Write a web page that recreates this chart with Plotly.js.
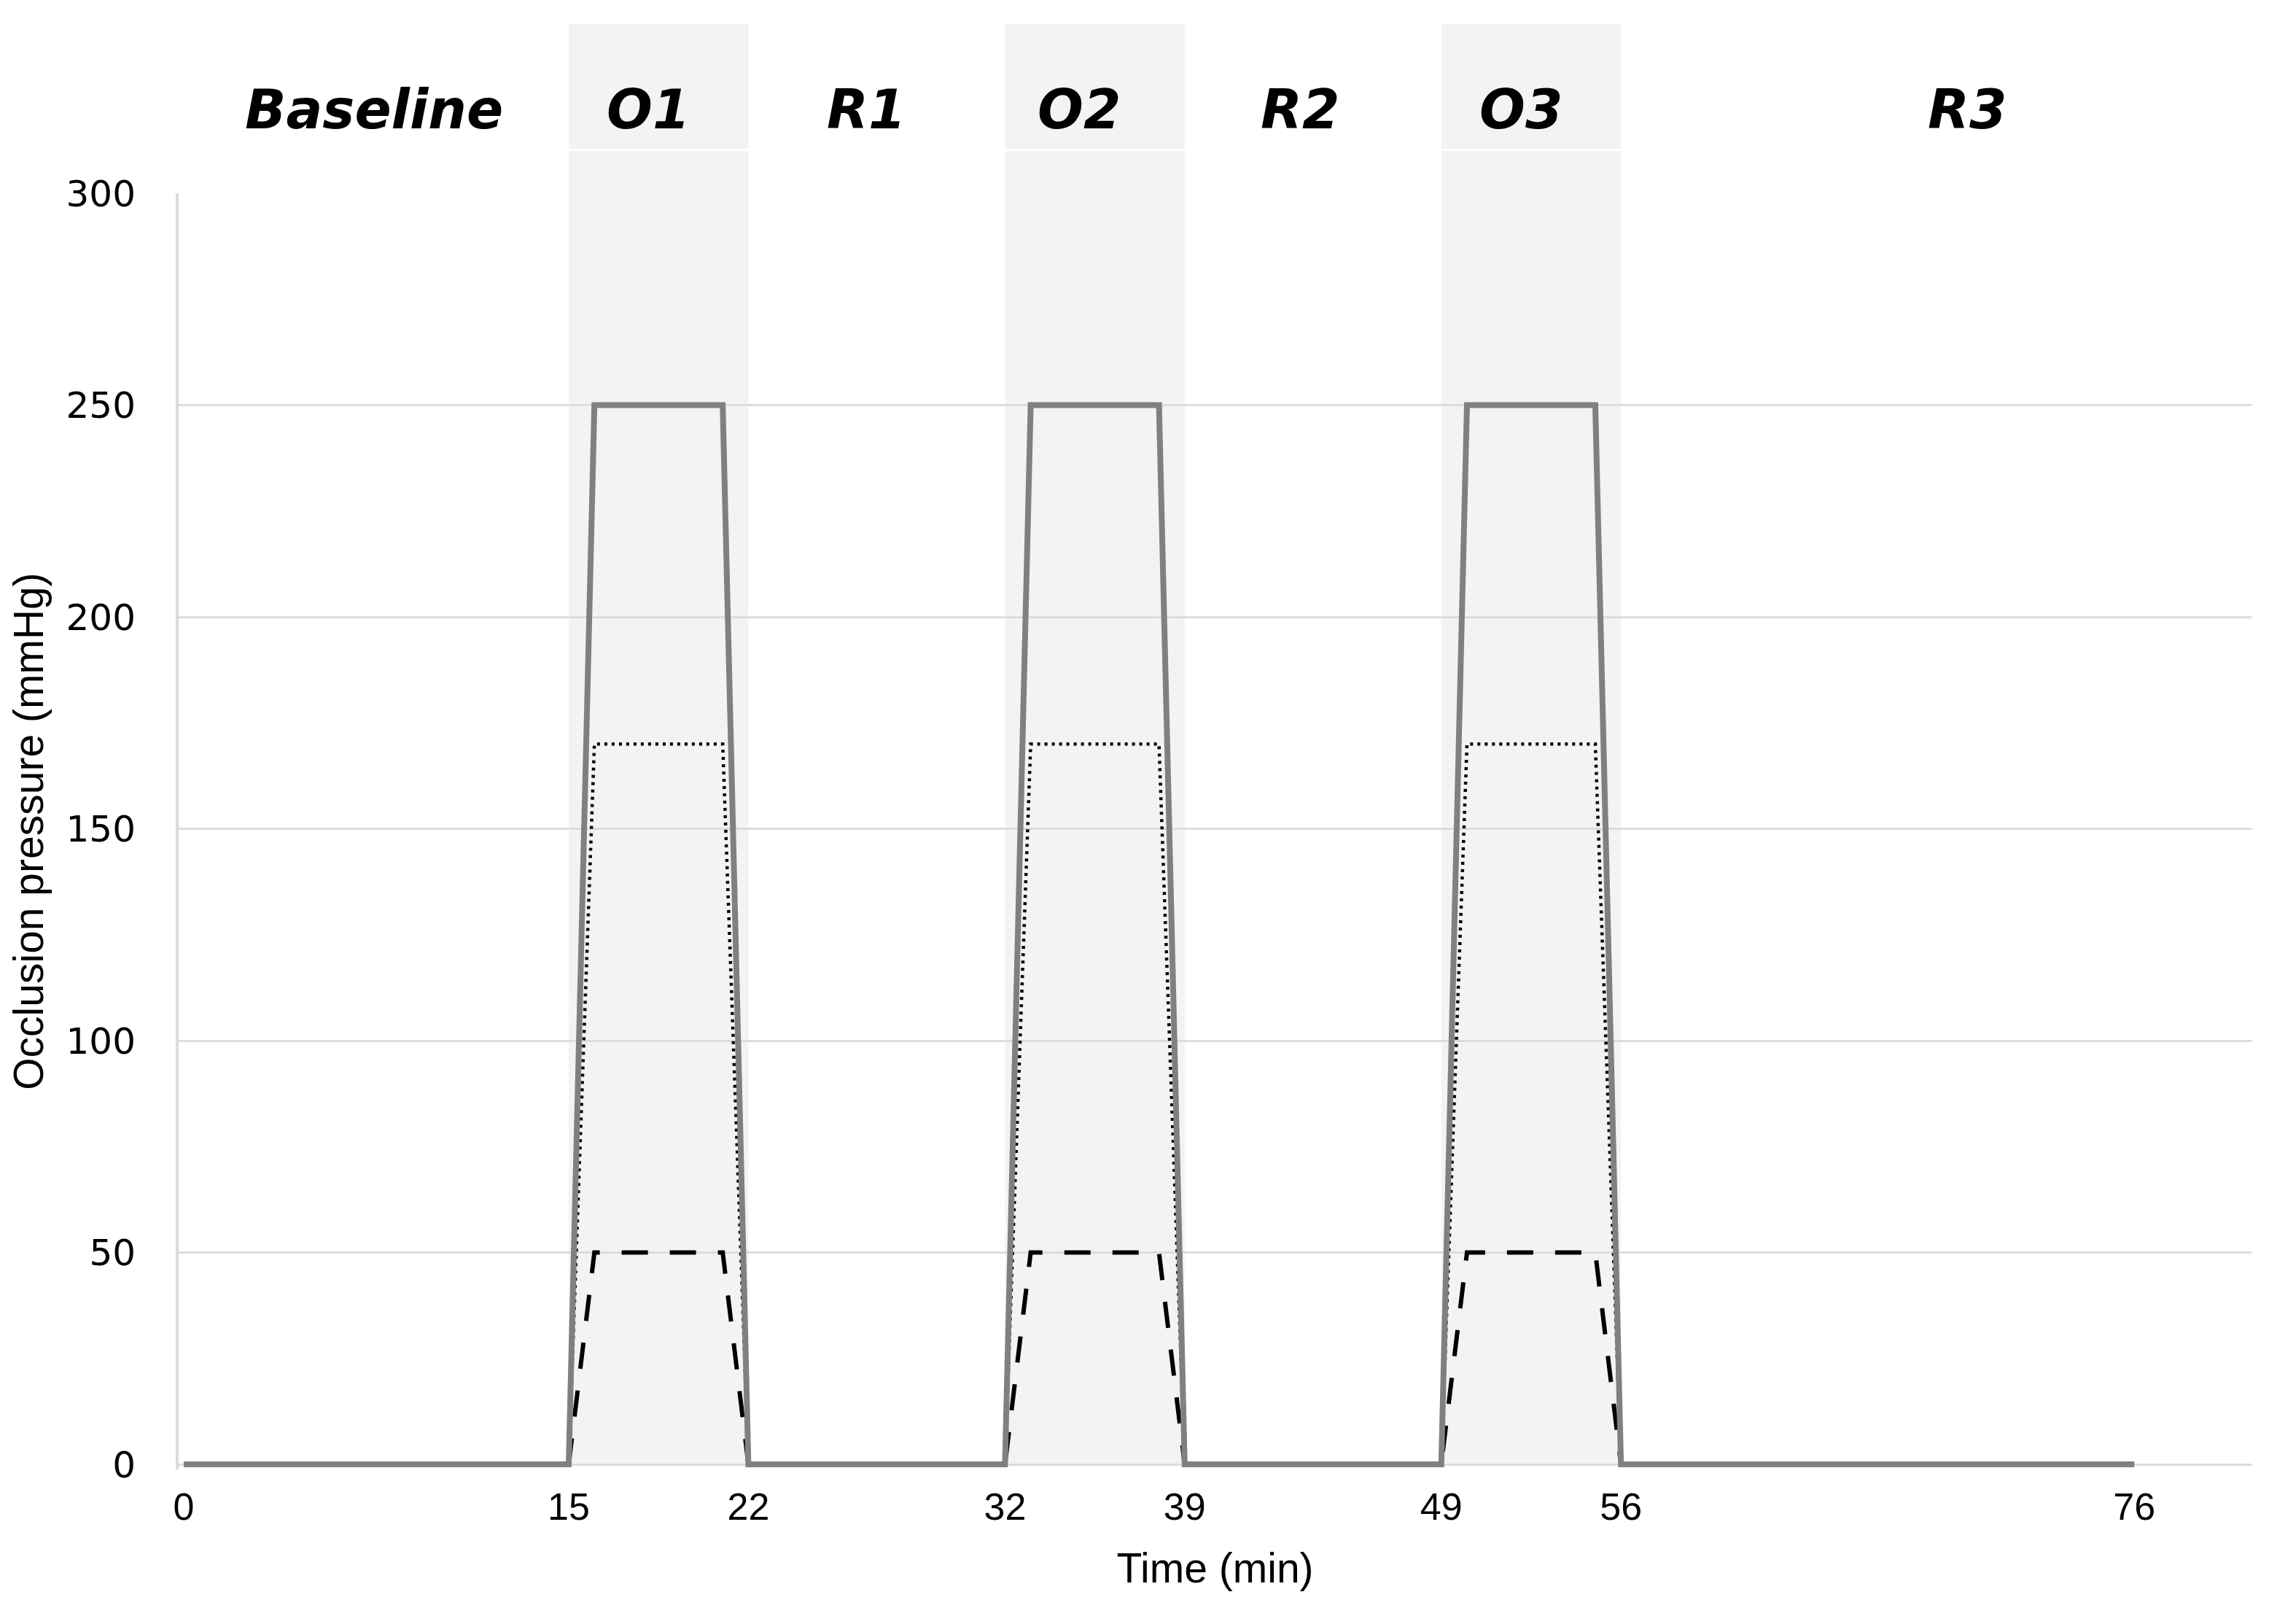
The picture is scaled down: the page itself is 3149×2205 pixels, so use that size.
<!DOCTYPE html>
<html>
<head>
<meta charset="utf-8">
<script src="https://cdn.plot.ly/plotly-3.0.1.min.js"></script>
<style>
  html, body { margin: 0; padding: 0; background: #ffffff; }
  #chart { width: 3149px; height: 2205px; }
</style>
</head>
<body>
<div id="chart"></div>
<script>
// ---- data ----
const timeMin      = [0, 15, 16, 21, 22, 32, 33, 38, 39, 49, 50, 55, 56, 76];
const pressureHigh = [0, 0, 250, 250, 0, 0, 250, 250, 0, 0, 250, 250, 0, 0];
const pressureMid  = [0, 0, 170, 170, 0, 0, 170, 170, 0, 0, 170, 170, 0, 0];
const pressureLow  = [0, 0, 50, 50, 0, 0, 50, 50, 0, 0, 50, 50, 0, 0];

const phaseNames = ['Baseline', 'O1', 'R1', 'O2', 'R2', 'O3', 'R3'];
const phaseStart = [0, 15, 22, 32, 39, 49, 56];
const phaseEnd   = [15, 22, 32, 39, 49, 56, 76];

const xTickVals = [0, 15, 22, 32, 39, 49, 56, 76];
const xTickText = ['0', '15', '22', '32', '39', '49', '56', '76'];
const yTickVals = [0, 50, 100, 150, 200, 250, 300];

// ---- layout constants ----
const X_RANGE = [-0.2, 80.57];
const Y_RANGE = [-1.2, 300];
const labelX = [7.4, 18.1, 26.6, 34.9, 43.5, 52.1, 69.5];
const PH = 1750, PB = 190;           // plot height, bottom margin
const py = (pix) => (2205 - PB - pix) / PH;   // pixel row -> paper y

const traces = [
  { x: timeMin, y: pressureLow, mode: 'lines', name: '50 mmHg',
    line: { color: '#000000', width: 6, dash: '36px,30px' }, hoverinfo: 'x+y' },
  { x: timeMin, y: pressureMid, mode: 'lines', name: '170 mmHg',
    line: { color: '#000000', width: 4.5, dash: '4px,6px' }, hoverinfo: 'x+y' },
  { x: timeMin, y: pressureHigh, mode: 'lines', name: '250 mmHg',
    line: { color: '#808080', width: 8 }, hoverinfo: 'x+y' }
];

const shapes = [];
const annotations = [];
phaseNames.forEach((name, i) => {
  if (name.startsWith('O')) {
    shapes.push({ type: 'rect', layer: 'below', xref: 'x', yref: 'paper',
      x0: phaseStart[i], x1: phaseEnd[i], y0: py(2008), y1: py(207),
      fillcolor: '#f3f3f3', line: { width: 0 } });
    shapes.push({ type: 'rect', layer: 'below', xref: 'x', yref: 'paper',
      x0: phaseStart[i], x1: phaseEnd[i], y0: py(204), y1: py(33),
      fillcolor: '#f3f3f3', line: { width: 0 } });
  }
  annotations.push({ text: '<b><i>' + name + '</i></b>', xref: 'x', yref: 'paper',
    x: labelX[i], y: py(150), xanchor: 'center', yanchor: 'middle', showarrow: false,
    font: { family: 'DejaVu Sans, Verdana, sans-serif', size: 74, color: '#000000' } });
});

const layout = {
  width: 3149, height: 2205,
  margin: { l: 245, r: 61, t: 265, b: PB, pad: 0 },
  paper_bgcolor: '#ffffff', plot_bgcolor: 'rgba(0,0,0,0)',
  showlegend: false,
  xaxis: {
    range: X_RANGE, tickmode: 'array', tickvals: xTickVals, ticktext: xTickText,
    showgrid: false, zeroline: false, showline: false, ticks: '',
    ticklabelstandoff: 16,
    tickfont: { family: 'Liberation Sans, Arial, sans-serif', size: 52, color: '#000000' },
    title: { text: 'Time (min)', standoff: 36,
      font: { family: 'Liberation Sans, Arial, sans-serif', size: 57, color: '#000000' } }
  },
  yaxis: {
    range: Y_RANGE, tickmode: 'array', tickvals: yTickVals,
    showgrid: true, gridcolor: '#dcdcdc', gridwidth: 3,
    zeroline: false, showline: true, linecolor: '#dcdcdc', linewidth: 4,
    ticks: '', ticklabelstandoff: 45,
    tickfont: { family: 'DejaVu Sans, Verdana, sans-serif', size: 50, color: '#000000' },
    title: { text: 'Occlusion pressure (mmHg)', standoff: 14,
      font: { family: 'Liberation Sans, Arial, sans-serif', size: 57, color: '#000000' } }
  },
  shapes: shapes,
  annotations: annotations
};

Plotly.newPlot('chart', traces, layout, { staticPlot: true, displayModeBar: false });
</script>
</body>
</html>
